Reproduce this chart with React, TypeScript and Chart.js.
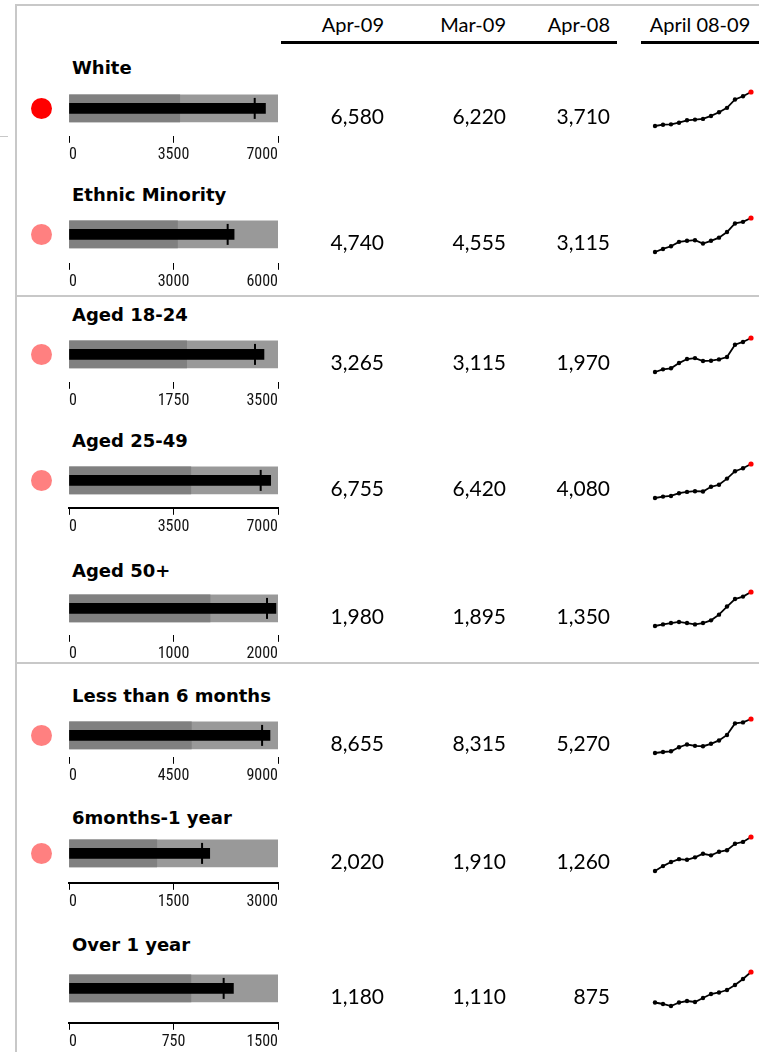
import React, { useEffect, useRef } from 'react';
import { Chart, registerables } from 'chart.js';

Chart.register(...registerables);

// ---------- DATA ----------
const categories = [
  'White',
  'Ethnic Minority',
  'Aged 18-24',
  'Aged 25-49',
  'Aged 50+',
  'Less than 6 months',
  '6months-1 year',
  'Over 1 year',
];
const columnHeaders = ['Apr-09', 'Mar-09', 'Apr-08'];
const trendHeader = 'April 08-09';

const apr09 = [6580, 4740, 3265, 6755, 1980, 8655, 2020, 1180];
const mar09 = [6220, 4555, 3115, 6420, 1895, 8315, 1910, 1110];
const apr08 = [3710, 3115, 1970, 4080, 1350, 5270, 1260, 875];
const axisMax = [7000, 6000, 3500, 7000, 2000, 9000, 3000, 1500];
// 2 = strong alert, 1 = mild alert, 0 = none
const statusLevel = [2, 1, 1, 1, 0, 1, 1, 0];

const months = [
  'Apr-08', 'May-08', 'Jun-08', 'Jul-08', 'Aug-08', 'Sep-08', 'Oct-08',
  'Nov-08', 'Dec-08', 'Jan-09', 'Feb-09', 'Mar-09', 'Apr-09',
];
const trendWhite = [3710, 3820, 3850, 3990, 4190, 4250, 4310, 4560, 4870, 5240, 5950, 6220, 6580];
const trendEthnic = [3115, 3260, 3390, 3600, 3650, 3680, 3520, 3650, 3800, 4070, 4480, 4555, 4740];
const trendAged1824 = [1970, 2070, 2110, 2310, 2465, 2500, 2390, 2400, 2450, 2540, 3010, 3115, 3265];
const trendAged2549 = [4080, 4190, 4240, 4455, 4560, 4615, 4590, 4960, 5120, 5605, 6190, 6420, 6755];
const trendAged50 = [1350, 1380, 1405, 1425, 1405, 1380, 1405, 1455, 1560, 1710, 1850, 1895, 1980];
const trendLess6m = [5270, 5370, 5440, 5845, 6115, 5980, 5945, 6185, 6520, 7065, 8215, 8315, 8655];
const trend6m1y = [1260, 1370, 1460, 1525, 1510, 1565, 1645, 1610, 1690, 1725, 1870, 1910, 2020];
const trendOver1y = [875, 860, 840, 875, 890, 880, 920, 960, 975, 1000, 1050, 1110, 1180];
const trends = [
  trendWhite, trendEthnic, trendAged1824, trendAged2549,
  trendAged50, trendLess6m, trend6m1y, trendOver1y,
];

// ---------- LAYOUT ----------
const SANS = 'Lato, "Open Sans", "Noto Sans", sans-serif';
const TITLE_FONT = '"DejaVu Sans", Lato, sans-serif';
const NARROW = '"Roboto Condensed", "DejaVu Sans Condensed", sans-serif';

const ROWS = [
  { barTop: 95, titleBase: 75, axisTop: 136, axisLine: false },
  { barTop: 221, titleBase: 202, axisTop: 263, axisLine: false },
  { barTop: 341, titleBase: 322, axisTop: 382, axisLine: false },
  { barTop: 467, titleBase: 448, axisTop: 508, axisLine: true },
  { barTop: 595, titleBase: 578, axisTop: 635, axisLine: false },
  { barTop: 722, titleBase: 703, axisTop: 757, axisLine: false },
  { barTop: 840, titleBase: 825, axisTop: 883, axisLine: true },
  { barTop: 975, titleBase: 952, axisTop: 1023, axisLine: true },
];
const BAR_H = 27;
const PLOT_LEFT = 69;
const PLOT_RIGHT = 278;
const NUM_RIGHT = [384, 506, 610];

function Bullet({ i }: { i: number }) {
  const ref = useRef<HTMLCanvasElement | null>(null);
  const row = ROWS[i];
  const center = row.barTop + BAR_H / 2;
  const areaH = 2 * (row.axisTop - center);
  const areaTop = center - areaH / 2;
  const canvasLeft = 55;
  const canvasW = 245;
  const initH = Math.round(areaH + 34);

  useEffect(() => {
    const cv = ref.current;
    if (!cv) return;
    let padL = PLOT_LEFT - canvasLeft;
    let padR = canvasLeft + canvasW - PLOT_RIGHT;
    const chart = new Chart(cv, {
      type: 'bar',
      data: {
        labels: [categories[i]],
        datasets: [
          {
            type: 'line',
            indexAxis: 'y',
            data: [mar09[i]],
            showLine: false,
            pointStyle: 'line',
            rotation: 90,
            pointRadius: 10.5,
            pointBorderWidth: 2,
            pointBorderColor: '#000',
            borderColor: '#000',
            order: 0,
            clip: false,
          } as any,
          { data: [apr09[i]], backgroundColor: '#000', barThickness: 10, grouped: false, order: 1 } as any,
          { data: [apr08[i]], backgroundColor: '#808080', barThickness: BAR_H, grouped: false, order: 2 } as any,
          { data: [axisMax[i]], backgroundColor: '#999999', barThickness: BAR_H, grouped: false, order: 3 } as any,
        ],
      },
      options: {
        indexAxis: 'y',
        animation: false,
        responsive: false,
        events: [],
        layout: {
          autoPadding: false,
          padding: { left: padL, right: padR, top: 0, bottom: 0 },
        },
        plugins: { legend: { display: false }, tooltip: { enabled: false } },
        scales: {
          x: {
            type: 'linear',
            min: 0,
            max: axisMax[i],
            ticks: {
              stepSize: axisMax[i] / 2,
              align: 'inner',
              autoSkip: false,
              maxRotation: 0,
              padding: 3,
              color: '#111',
              font: { family: NARROW, size: 16, weight: 'normal' },
              callback: (v: any) => String(v),
            },
            grid: { drawOnChartArea: false, drawTicks: true, tickLength: 7, color: '#000', lineWidth: 1 },
            border: { display: row.axisLine, color: '#000', width: 2 },
          },
          y: { display: false },
        },
      } as any,
    });
    // Fit the plot area exactly to [PLOT_LEFT, PLOT_RIGHT] x [areaTop, axisTop]
    const targetL = PLOT_LEFT - canvasLeft;
    const targetR = PLOT_RIGHT - canvasLeft;
    for (let it = 0; it < 4; it++) {
      const ca = chart.chartArea;
      const errL = ca.left - targetL;
      const errR = targetR - ca.right;
      const axisH = chart.height - ca.bottom;
      const newH = Math.round(areaH + axisH + ca.top);
      if (Math.abs(errL) < 0.25 && Math.abs(errR) < 0.25 && newH === chart.height) break;
      padL -= errL;
      padR -= errR;
      (chart.options as any).layout.padding = { left: padL, right: padR, top: 0, bottom: 0 };
      if (newH !== chart.height) {
        chart.resize(canvasW, newH);
        cv.style.height = newH + 'px';
      }
      chart.update();
    }
    cv.style.top = areaTop - chart.chartArea.top + 'px';
    return () => chart.destroy();
  }, []);

  return (
    <canvas
      ref={ref}
      width={canvasW}
      height={initH}
      style={{ position: 'absolute', left: canvasLeft, top: areaTop, width: canvasW, height: initH }}
    />
  );
}

function Spark({ i }: { i: number }) {
  const ref = useRef<HTMLCanvasElement | null>(null);
  const row = ROWS[i];
  const center = row.barTop + BAR_H / 2;
  const PAD = 4;
  const top = Math.round(center - 17 - PAD);
  const left = 655 - PAD;
  const w = 96 + 2 * PAD;
  const h = 34 + 2 * PAD;

  useEffect(() => {
    if (!ref.current) return;
    const data = trends[i];
    const last = data.length - 1;
    const chart = new Chart(ref.current, {
      type: 'line',
      data: {
        labels: months,
        datasets: [
          {
            data,
            borderColor: '#000',
            borderWidth: 1.8,
            tension: 0,
            pointRadius: data.map((_, k) => (k === last ? 2.6 : 2.2)),
            pointBackgroundColor: data.map((_, k) => (k === last ? '#ff0000' : '#000')),
            pointBorderWidth: 0,
            clip: false,
          } as any,
        ],
      },
      options: {
        animation: false,
        responsive: false,
        events: [],
        layout: { padding: PAD },
        plugins: { legend: { display: false }, tooltip: { enabled: false } },
        scales: {
          x: { display: false },
          y: { display: false, min: Math.min(...data), max: Math.max(...data) },
        },
      } as any,
    });
    return () => chart.destroy();
  }, []);

  return (
    <canvas
      ref={ref}
      width={w}
      height={h}
      style={{ position: 'absolute', left, top, width: w, height: h }}
    />
  );
}

export default function App() {
  const abs: React.CSSProperties = { position: 'absolute' };
  return (
    <div
      style={{
        position: 'absolute',
        left: 0,
        top: 0,
        width: 759,
        height: 1052,
        overflow: 'hidden',
        background: '#fff',
        fontFamily: SANS,
        color: '#000',
      }}
    >
      {/* frame */}
      <div style={{ ...abs, left: 15, top: 4, width: 2, height: 1048, background: '#c8c8c8' }} />
      <div style={{ ...abs, left: 15, top: 4, width: 744, height: 2, background: '#c8c8c8' }} />
      <div style={{ ...abs, left: 0, top: 136, width: 8, height: 1, background: '#c8c8c8' }} />
      <div style={{ ...abs, left: 15, top: 295, width: 744, height: 2, background: '#c8c8c8' }} />
      <div style={{ ...abs, left: 15, top: 662, width: 744, height: 2, background: '#c8c8c8' }} />

      {/* headers */}
      {columnHeaders.map((h, k) => (
        <div
          key={h}
          style={{ ...abs, left: NUM_RIGHT[k] - 120, width: 120, top: 14, fontSize: 20, lineHeight: '20px', textAlign: 'right', whiteSpace: 'nowrap' }}
        >
          {h}
        </div>
      ))}
      <div style={{ ...abs, left: 641, width: 118, top: 14, fontSize: 20, lineHeight: '20px', textAlign: 'center', whiteSpace: 'nowrap' }}>
        {trendHeader}
      </div>
      <div style={{ ...abs, left: 281, top: 41, width: 336, height: 3, background: '#000' }} />
      <div style={{ ...abs, left: 641, top: 41, width: 118, height: 3, background: '#000' }} />

      {categories.map((c, i) => {
        const row = ROWS[i];
        const center = row.barTop + BAR_H / 2;
        const vals = [apr09[i], mar09[i], apr08[i]];
        return (
          <React.Fragment key={c}>
            <div
              style={{ ...abs, left: 72, top: row.titleBase - 16, fontFamily: TITLE_FONT, fontSize: 18, lineHeight: '18px', fontWeight: 700, whiteSpace: 'nowrap' }}
            >
              {c}
            </div>
            {statusLevel[i] > 0 && (
              <div
                style={{
                  ...abs,
                  left: 30.5,
                  top: center - 10.5,
                  width: 21,
                  height: 21,
                  borderRadius: '50%',
                  background: statusLevel[i] === 2 ? '#ff0000' : '#ff8080',
                }}
              />
            )}
            <Bullet i={i} />
            {vals.map((v, k) => (
              <div
                key={k}
                style={{ ...abs, left: NUM_RIGHT[k] - 120, width: 120, top: center + 15 - 18.6, fontSize: 21, lineHeight: '21px', textAlign: 'right' }}
              >
                {v.toLocaleString('en-US')}
              </div>
            ))}
            <Spark i={i} />
          </React.Fragment>
        );
      })}
    </div>
  );
}
